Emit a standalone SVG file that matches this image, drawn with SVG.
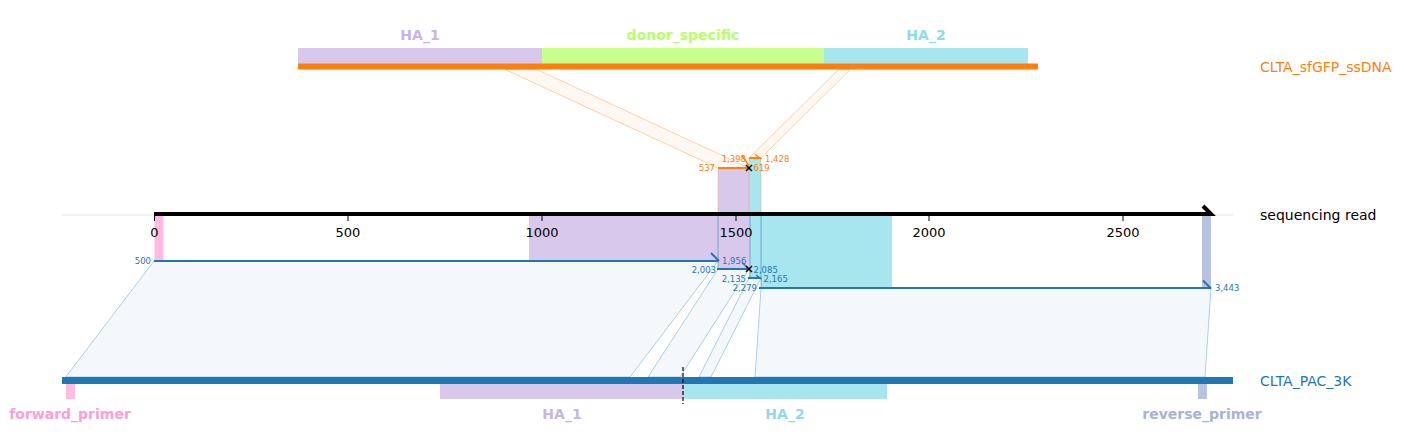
<svg xmlns="http://www.w3.org/2000/svg" width="1404" height="448" viewBox="0 0 1404 448">
<style>
text{font-family:"DejaVu Sans","Liberation Sans",sans-serif}
.lab{font-size:14px;dominant-baseline:central}
.flab{font-size:14px;font-weight:bold;text-anchor:middle;dominant-baseline:central}
.tick{font-size:13px;text-anchor:middle;dominant-baseline:central;fill:#000}
.sm{font-size:8.5px;dominant-baseline:central}
.ob{fill:#ff7f0e}
.bb{fill:#1f77b4}
.opar{fill:#ff7f0e;fill-opacity:0.06;stroke:#ff7f0e;stroke-opacity:0.35;stroke-width:1}
.bpar{fill:#1f77b4;fill-opacity:0.05;stroke:#1f77b4;stroke-opacity:0.35;stroke-width:1}
.oal{stroke:#ff7f0e;stroke-width:2;fill:none}
.bal{stroke:#1f77b4;stroke-width:2;fill:none}
.x{stroke:#000;stroke-width:1.5}
.ha1{fill:#d8c8ec}
.ha2{fill:#a8e6ef}
</style>
<rect width="1404" height="448" fill="#fff"/>

<g id="ssDNA">
<rect x="298" y="48" width="244" height="16" class="ha1"/>
<rect x="542" y="48" width="282" height="16" fill="#c8ff8c"/>
<rect x="824" y="48" width="204" height="16" class="ha2"/>
<rect x="298" y="63.5" width="740" height="6" fill="#ff7f0e"/>
<text x="420" y="35" class="flab" fill="#c8b4e6">HA_1</text>
<text x="683" y="35" class="flab" fill="#b6ff6c">donor_specific</text>
<text x="926" y="35" class="flab" fill="#8fdbe8">HA_2</text>
<text x="1260" y="67" class="lab" fill="#ff7f0e">CLTA_sfGFP_ssDNA</text>
</g>

<g id="read">
<line x1="62" y1="215" x2="1233" y2="215" stroke="#e4e4e4" stroke-width="1"/>
<rect x="154.5" y="214" width="9" height="47" fill="#ffbbe0"/>
<rect x="529" y="214" width="189" height="47" class="ha1"/>
<rect x="718" y="214" width="31" height="55" class="ha1"/>
<rect x="749" y="214" width="12" height="64" class="ha2"/>
<rect x="761" y="214" width="131" height="74" class="ha2"/>
<rect x="1202" y="214" width="9" height="74" fill="#b8c3e0"/>
<rect x="718" y="168" width="31" height="46" class="ha1"/>
<rect x="749" y="158" width="12" height="56" class="ha2"/>
<g stroke="#ff7f0e" stroke-opacity="0.3" stroke-width="1">
<line x1="718" y1="168" x2="718" y2="214"/>
<line x1="749" y1="158" x2="749" y2="214"/>
<line x1="761" y1="158" x2="761" y2="214"/>
</g>
<g stroke="#1f77b4" stroke-opacity="0.35" stroke-width="1.5">
<line x1="718" y1="214" x2="718" y2="269"/>
<line x1="750" y1="214" x2="750" y2="278"/>
<line x1="761" y1="214" x2="761" y2="288"/>
</g>
<polyline points="154,214 1211,214 1203,206" fill="none" stroke="#000" stroke-width="4"/>
<g stroke="#000" stroke-width="1">
<line x1="154.5" y1="214" x2="154.5" y2="221"/>
<line x1="348" y1="214" x2="348" y2="221"/>
<line x1="542" y1="214" x2="542" y2="221"/>
<line x1="736" y1="214" x2="736" y2="221"/>
<line x1="929" y1="214" x2="929" y2="221"/>
<line x1="1123" y1="214" x2="1123" y2="221"/>
</g>
<text x="154.5" y="232" class="tick">0</text>
<text x="348" y="232" class="tick">500</text>
<text x="542" y="232" class="tick">1000</text>
<text x="736" y="232" class="tick">1500</text>
<text x="929" y="232" class="tick">2000</text>
<text x="1123" y="232" class="tick">2500</text>
<text x="1260" y="215" class="lab" fill="#000">sequencing read</text>
</g>

<g id="reference">
<rect x="62" y="377" width="1171" height="7" fill="#1f77b4"/>
<rect x="66" y="384" width="9" height="15" fill="#ffbbe0"/>
<rect x="440" y="384" width="243" height="15" class="ha1"/>
<rect x="683" y="384" width="204" height="15" class="ha2"/>
<rect x="1198" y="384" width="9" height="15" fill="#b8c3e0"/>
<line x1="683" y1="367" x2="683" y2="404" stroke="#000" stroke-width="1.2" stroke-dasharray="4,2"/>
<text x="70" y="414" class="flab" fill="#ff9ed4">forward_primer</text>
<text x="562" y="414" class="flab" fill="#c8b4e6">HA_1</text>
<text x="785" y="414" class="flab" fill="#8fdbe8">HA_2</text>
<text x="1202" y="414" class="flab" fill="#a6b3d8">reverse_primer</text>
<text x="1260" y="381" class="lab" fill="#1f77b4">CLTA_PAC_3K</text>
</g>

<g id="connectors">
<polygon points="505,69.5 537,69.5 749,168 718,168" class="opar"/>
<polygon points="838.6,69.5 850.2,69.5 761,158 749,158" class="opar"/>
<polygon points="154,261 718,261 630,377 65.7,377" class="bpar"/>
<polygon points="718,269 749,269 680,377 648,377" class="bpar"/>
<polygon points="749,278 761,278 711,377 699,377" class="bpar"/>
<polygon points="761,288 1211,288 1205,377 755,377" class="bpar"/>

<line x1="718" y1="168" x2="749" y2="168" class="oal"/>
<line x1="749" y1="158" x2="761" y2="158" class="oal"/>
<line x1="742" y1="155" x2="749" y2="166" stroke="#ff7f0e" stroke-width="1.5"/>
<line x1="755" y1="154.5" x2="761.5" y2="159" stroke="#ff7f0e" stroke-width="1.5"/>
<line x1="746" y1="165" x2="752" y2="171" class="x"/>
<line x1="752" y1="165" x2="746" y2="171" class="x"/>
<text x="715" y="168" class="sm ob" text-anchor="end">537</text>
<text x="753.5" y="168" class="sm ob">619</text>
<text x="746" y="159" class="sm ob" text-anchor="end">1,398</text>
<text x="765" y="159" class="sm ob">1,428</text>

<line x1="154" y1="261" x2="718" y2="261" class="bal"/>
<line x1="711" y1="253" x2="719" y2="261" class="bal"/>
<line x1="717" y1="269" x2="749" y2="269" class="bal"/>
<line x1="742" y1="262.5" x2="749" y2="269" stroke="#1f77b4" stroke-width="1.5"/>
<line x1="748" y1="278" x2="761" y2="278" class="bal"/>
<line x1="756" y1="275" x2="761.5" y2="279" stroke="#1f77b4" stroke-width="1.5"/>
<line x1="759" y1="288" x2="1211" y2="288" class="bal"/>
<line x1="1203" y1="280.5" x2="1211" y2="288.5" class="bal"/>
<line x1="746" y1="266" x2="752" y2="272" class="x"/>
<line x1="752" y1="266" x2="746" y2="272" class="x"/>
<text x="151" y="261" class="sm bb" text-anchor="end">500</text>
<text x="722" y="261" class="sm bb">1,956</text>
<text x="716" y="269.5" class="sm bb" text-anchor="end">2,003</text>
<text x="753.5" y="269.5" class="sm bb">2,085</text>
<text x="746" y="278.5" class="sm bb" text-anchor="end">2,135</text>
<text x="763.5" y="278.5" class="sm bb">2,165</text>
<text x="757" y="288" class="sm bb" text-anchor="end">2,279</text>
<text x="1215" y="288" class="sm bb">3,443</text>
</g>
</svg>
